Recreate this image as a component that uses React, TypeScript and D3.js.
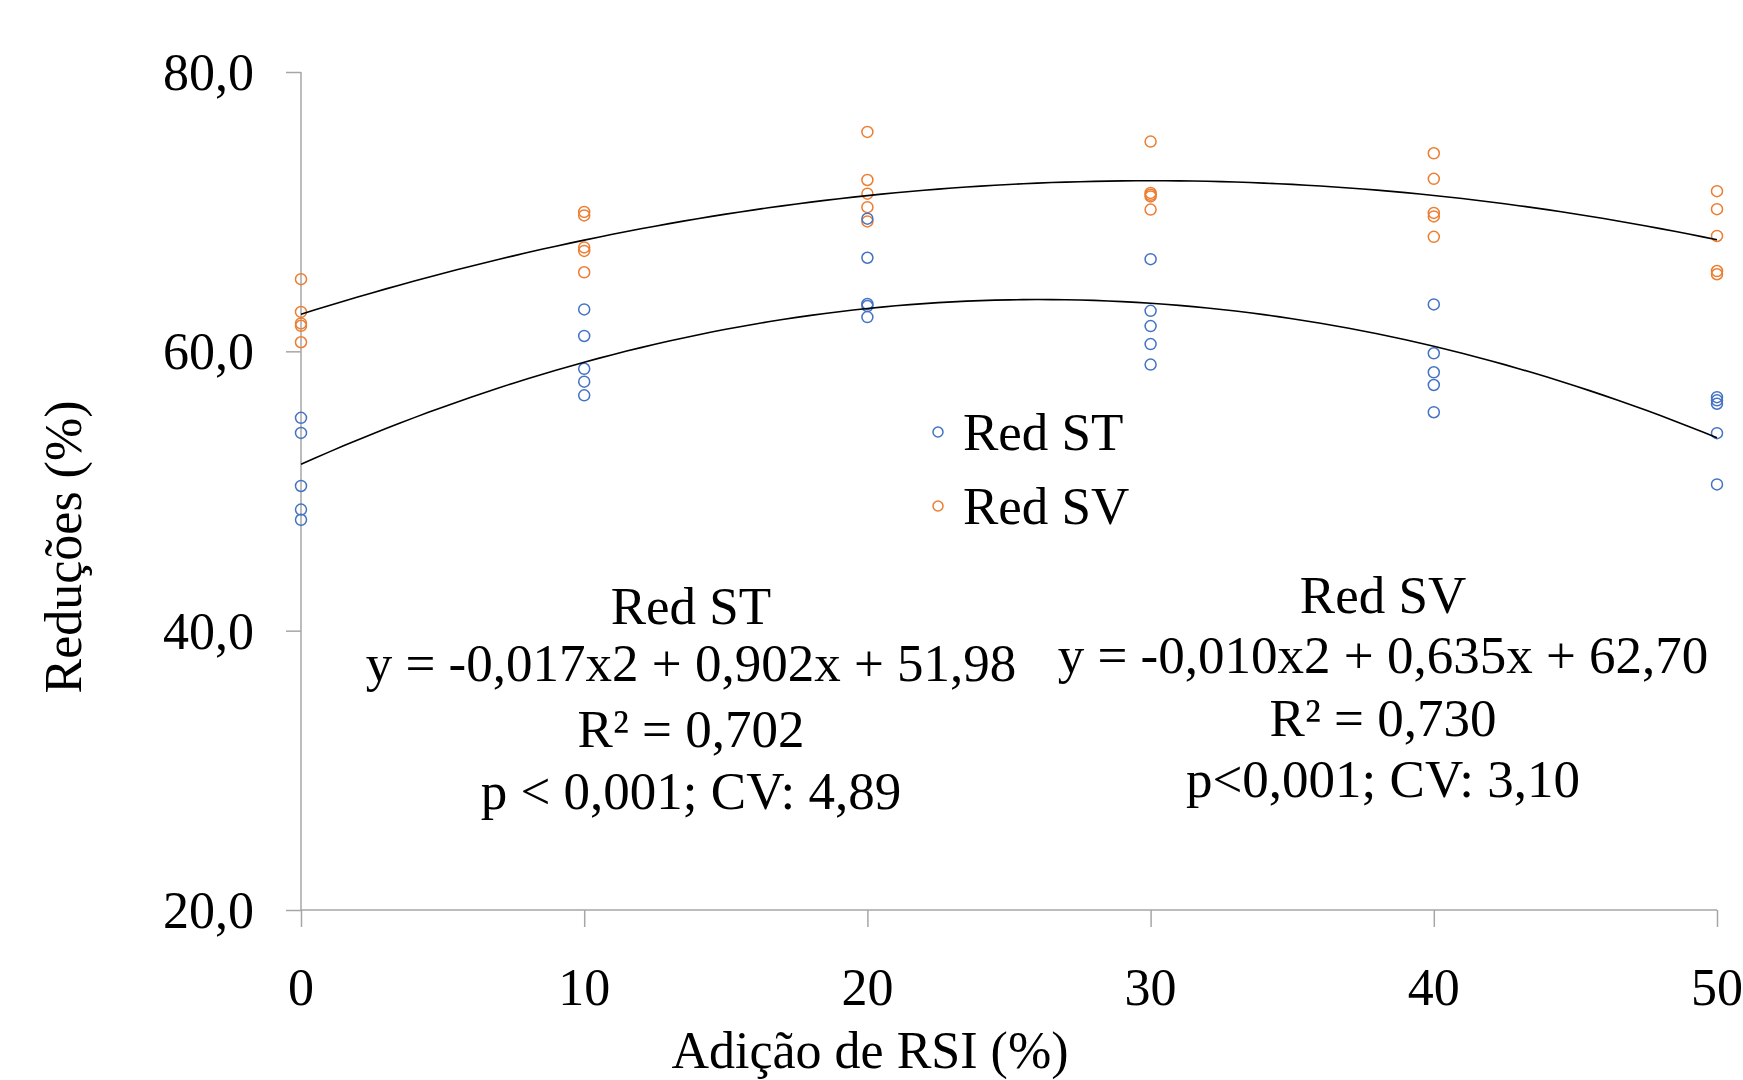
import React, { useEffect, useRef } from "react";
import * as d3 from "d3";

// RSI addition levels (%)
const doses = [0, 10, 20, 30, 40, 50];

// Red ST replicates per dose
const redST = [
  [55.24, 54.16, 50.36, 48.67, 47.94],
  [63.0, 61.1, 58.75, 57.83, 56.85],
  [69.5, 66.7, 63.39, 63.24, 62.45],
  [66.6, 62.9, 61.81, 60.52, 59.05],
  [63.36, 59.86, 58.5, 57.59, 55.64],
  [56.72, 56.49, 56.25, 54.14, 50.47],
];

// Red SV replicates per dose
const redSV = [
  [65.17, 62.82, 62.0, 61.83, 60.65],
  [69.98, 69.73, 67.44, 67.19, 65.66],
  [75.71, 72.27, 71.29, 70.32, 69.3],
  [75.02, 71.34, 71.21, 71.09, 70.15],
  [74.18, 72.35, 69.91, 69.66, 68.2],
  [71.47, 70.18, 68.26, 65.75, 65.52],
];

const yTicks = [20, 40, 60, 80];
const xTicks = [0, 10, 20, 30, 40, 50];

const stText = ["Red ST", "y = -0,017x2 + 0,902x + 51,98", "R\u00B2 = 0,702", "p < 0,001; CV: 4,89"];
const svText = ["Red SV", "y = -0,010x2 + 0,635x + 62,70", "R\u00B2 = 0,730", "p<0,001; CV: 3,10"];

const BLUE = "#4472C4";
const ORANGE = "#ED7D31";
const FONT = "'Liberation Serif', 'Times New Roman', serif";

// least squares quadratic (what the spreadsheet trendline does)
function quadFit(xs: number[], ys: number[]) {
  const S = [0, 0, 0, 0, 0];
  const T = [0, 0, 0];
  xs.forEach((x, i) => {
    for (let k = 0; k < 5; k++) S[k] += Math.pow(x, k);
    for (let k = 0; k < 3; k++) T[k] += Math.pow(x, k) * ys[i];
  });
  const m = [
    [S[0], S[1], S[2], T[0]],
    [S[1], S[2], S[3], T[1]],
    [S[2], S[3], S[4], T[2]],
  ];
  for (let i = 0; i < 3; i++) {
    for (let j = i + 1; j < 3; j++) {
      const f = m[j][i] / m[i][i];
      for (let k = i; k < 4; k++) m[j][k] -= f * m[i][k];
    }
  }
  const c = [0, 0, 0];
  for (let i = 2; i >= 0; i--) {
    let s = m[i][3];
    for (let k = i + 1; k < 3; k++) s -= m[i][k] * c[k];
    c[i] = s / m[i][i];
  }
  return (x: number) => c[0] + c[1] * x + c[2] * x * x;
}

function flatten(series: number[][]) {
  const pts: { x: number; y: number }[] = [];
  series.forEach((vals, i) => vals.forEach(v => pts.push({ x: doses[i], y: v })));
  return pts;
}

const App = () => {
  const ref = useRef<SVGSVGElement>(null);

  useEffect(() => {
    const svg = d3.select(ref.current);
    svg.selectAll("*").remove();

    const x = d3.scaleLinear().domain([0, 50]).range([301, 1717]);
    const y = d3.scaleLinear().domain([20, 80]).range([910, 72]);
    const fmt = d3.formatLocale({ decimal: ",", thousands: ".", grouping: [3], currency: ["", ""] }).format(".1f");

    // y axis
    const yAxis = svg.append("g").attr("transform", `translate(${x(0)},0)`)
      .call(d3.axisLeft(y).tickValues(yTicks).tickSize(15).tickFormat(() => ""));
    yAxis.selectAll("path, line").attr("stroke", "#a6a6a6").attr("stroke-width", 1.5);
    yAxis.select(".domain").attr("d", `M0,${y(80)}V${y(20)}`);

    // x axis
    const xAxis = svg.append("g").attr("transform", `translate(0,${y(20)})`)
      .call(d3.axisBottom(x).tickValues(xTicks).tickSize(17).tickFormat(() => ""));
    xAxis.selectAll("path, line").attr("stroke", "#a6a6a6").attr("stroke-width", 1.5);
    xAxis.select(".domain").attr("d", `M${x(0)},0H${x(50)}`);

    // tick labels
    svg.append("g").selectAll("text").data(yTicks).join("text")
      .attr("x", 254).attr("y", d => y(d) + 18)
      .attr("text-anchor", "end").attr("font-family", FONT).attr("font-size", 52)
      .text(d => fmt(d));
    svg.append("g").selectAll("text").data(xTicks).join("text")
      .attr("x", d => x(d)).attr("y", 1005)
      .attr("text-anchor", "middle").attr("font-family", FONT).attr("font-size", 52)
      .text(d => String(d));

    // axis titles
    svg.append("text").attr("x", 870).attr("y", 1068).attr("text-anchor", "middle")
      .attr("font-family", FONT).attr("font-size", 52).text("Adição de RSI (%)");
    svg.append("text").attr("transform", "translate(81,547) rotate(-90)").attr("text-anchor", "middle")
      .attr("font-family", FONT).attr("font-size", 52).text("Reduções (%)");

    // points
    const drawPts = (series: number[][], color: string) => {
      svg.append("g").selectAll("circle").data(flatten(series)).join("circle")
        .attr("cx", d => x(d.x)).attr("cy", d => y(d.y)).attr("r", 5.5)
        .attr("fill", "none").attr("stroke", color).attr("stroke-width", 1.5);
    };
    drawPts(redSV, ORANGE);
    drawPts(redST, BLUE);

    // trendlines
    const samples = d3.range(0, 50.01, 0.5);
    const line = d3.line<number>();
    [redST, redSV].forEach(series => {
      const pts = flatten(series);
      const f = quadFit(pts.map(p => p.x), pts.map(p => p.y));
      svg.append("path")
        .attr("d", line(samples.map(s => [x(s), y(f(s))] as [number, number])) as string)
        .attr("fill", "none").attr("stroke", "#000").attr("stroke-width", 1.6);
    });

    // legend
    const legend = [{ name: "Red ST", color: BLUE, cy: 432 }, { name: "Red SV", color: ORANGE, cy: 506 }];
    const lg = svg.append("g");
    lg.selectAll("circle").data(legend).join("circle")
      .attr("cx", 938).attr("cy", d => d.cy).attr("r", 5)
      .attr("fill", "none").attr("stroke", d => d.color).attr("stroke-width", 1.5);
    lg.selectAll("text").data(legend).join("text")
      .attr("x", 963).attr("y", d => d.cy + 18)
      .attr("font-family", FONT).attr("font-size", 53).text(d => d.name);

    // equation boxes
    const stBase = [624, 681, 747, 809];
    const svBase = [613, 673, 736, 797];
    svg.append("g").selectAll("text").data(stText).join("text")
      .attr("x", 691).attr("y", (d, i) => stBase[i]).attr("text-anchor", "middle")
      .attr("font-family", FONT).attr("font-size", 53).text(d => d);
    svg.append("g").selectAll("text").data(svText).join("text")
      .attr("x", 1383).attr("y", (d, i) => svBase[i]).attr("text-anchor", "middle")
      .attr("font-family", FONT).attr("font-size", 53).text(d => d);
  }, []);

  return (
    <svg ref={ref} width={1743} height={1080}
      style={{ position: "absolute", left: 0, top: 0, background: "#fff" }} />
  );
};

export default App;
